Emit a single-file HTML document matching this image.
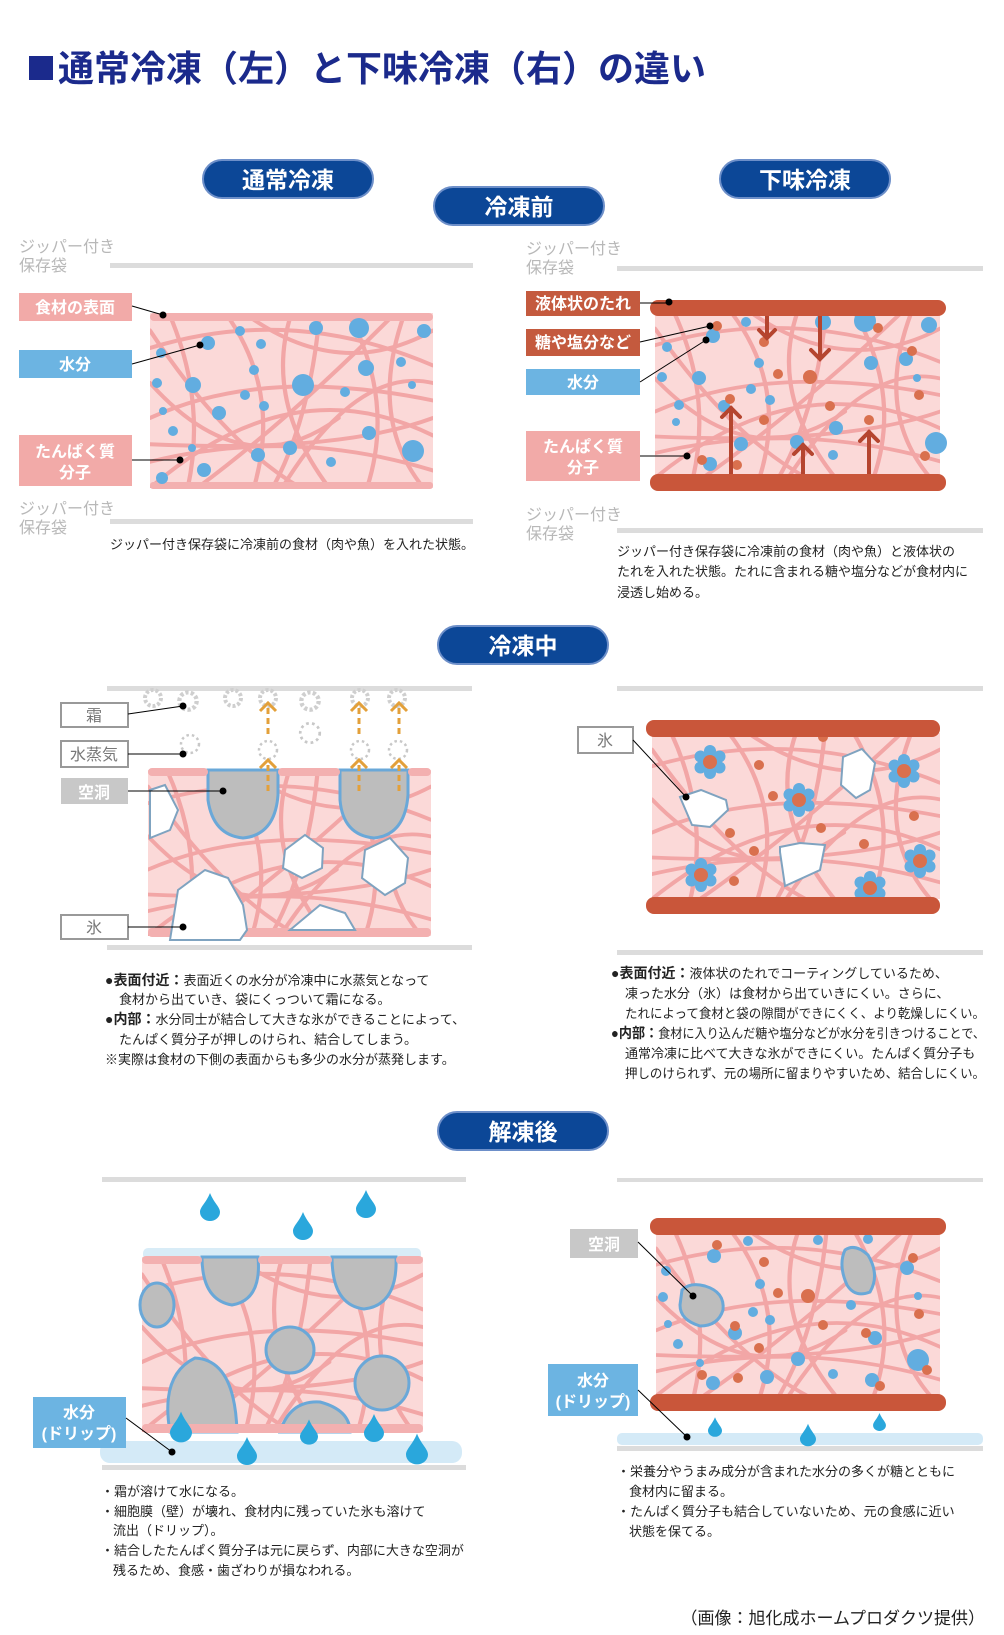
<!DOCTYPE html>
<html><head><meta charset="utf-8"><style>
html,body{margin:0;padding:0;background:#fff;}
svg{display:block;}
text{font-family:"Liberation Sans","Noto Sans CJK JP",sans-serif;}
</style></head><body>
<svg width="1004" height="1635" viewBox="0 0 1004 1635" xmlns="http://www.w3.org/2000/svg">
<defs>
<symbol id="fib" viewBox="0 0 300 200" preserveAspectRatio="none">
<rect width="300" height="200" fill="#fbd9d8"/>
<g fill="none" stroke="#f2a6a6" stroke-width="4.5" stroke-linecap="round">
<path d="M0,40 Q150,-10 300,60"/><path d="M0,120 Q120,60 300,100"/><path d="M0,170 Q150,130 300,180"/>
<path d="M20,0 Q60,100 40,200"/><path d="M80,0 Q140,90 110,200"/><path d="M150,0 Q120,100 190,200"/>
<path d="M210,0 Q260,100 230,200"/><path d="M270,0 Q230,120 290,200"/><path d="M0,80 Q100,200 200,120"/>
<path d="M100,0 Q200,80 300,20"/><path d="M0,200 Q150,60 300,140"/><path d="M0,20 Q80,150 160,200"/>
<path d="M140,200 Q220,60 300,80"/><path d="M50,200 Q150,120 260,0"/><path d="M0,150 Q200,160 300,120"/>
<path d="M180,0 Q170,120 130,200"/></g></symbol>
<symbol id="flw" viewBox="-20 -20 40 40">
<circle cx="0" cy="-11" r="6" fill="#62ade0"/><circle cx="9.5" cy="-5.5" r="6" fill="#62ade0"/><circle cx="9.5" cy="5.5" r="6" fill="#62ade0"/>
<circle cx="0" cy="11" r="6" fill="#62ade0"/><circle cx="-9.5" cy="5.5" r="6" fill="#62ade0"/><circle cx="-9.5" cy="-5.5" r="6" fill="#62ade0"/>
<circle r="7" fill="#d9704e"/></symbol>
<symbol id="drop" viewBox="0 0 20 28"><path d="M10,0 C14,10 20,14 20,19 A10,9 0 0 1 0,19 C0,14 6,10 10,0Z" fill="#2aa7dc"/></symbol>
<symbol id="gear" viewBox="-12 -12 24 24"><circle r="8" fill="none" stroke="#cfcfcf" stroke-width="4" stroke-dasharray="3 2"/></symbol>
<symbol id="vap" viewBox="-12 -12 24 24"><circle r="9" fill="none" stroke="#c8c8c8" stroke-width="2.5" stroke-dasharray="2.5 3"/></symbol>
</defs>

<rect x="29" y="56" width="24" height="24" fill="#1b2a8c"/>
<text x="58" y="81" font-size="36" font-weight="bold" fill="#1b2a8c">通常冷凍（左）と下味冷凍（右）の違い</text>

<g font-size="23" font-weight="bold" fill="#fff" text-anchor="middle">
<rect x="203" y="160" width="170" height="38" rx="19" fill="#0c4797" stroke="#6d8fc9" stroke-width="2"/><text x="288" y="188">通常冷凍</text>
<rect x="720" y="160" width="170" height="38" rx="19" fill="#0c4797" stroke="#6d8fc9" stroke-width="2"/><text x="805" y="188">下味冷凍</text>
<rect x="434" y="187" width="170" height="38" rx="19" fill="#0c4797" stroke="#6d8fc9" stroke-width="2"/><text x="519" y="215">冷凍前</text>
<rect x="438" y="626" width="170" height="38" rx="19" fill="#0c4797" stroke="#6d8fc9" stroke-width="2"/><text x="523" y="654">冷凍中</text>
<rect x="438" y="1112" width="170" height="38" rx="19" fill="#0c4797" stroke="#6d8fc9" stroke-width="2"/><text x="523" y="1140">解凍後</text>
</g>

<g font-size="16" fill="#b8b8b8">
<text x="19" y="252">ジッパー付き</text><text x="19" y="271">保存袋</text>
<text x="19" y="514">ジッパー付き</text><text x="19" y="533">保存袋</text>
<text x="526" y="254">ジッパー付き</text><text x="526" y="273">保存袋</text>
<text x="526" y="520">ジッパー付き</text><text x="526" y="539">保存袋</text>
</g>
<rect x="110" y="263" width="363" height="5" fill="#dcdcdc"/>
<rect x="110" y="519" width="363" height="5" fill="#dcdcdc"/>
<use href="#fib" x="150" y="313" width="283" height="175"/>
<rect x="150" y="313" width="283" height="8" rx="4" fill="#f3b0b0"/>
<rect x="150" y="482" width="283" height="7" rx="3" fill="#f3b0b0"/>
<g fill="#62ade0">
<circle cx="208" cy="343" r="7"/><circle cx="240" cy="331" r="5"/><circle cx="261" cy="344" r="5"/><circle cx="316" cy="328" r="7"/>
<circle cx="359" cy="328" r="10"/><circle cx="424" cy="331" r="7"/><circle cx="161" cy="353" r="5"/><circle cx="254" cy="370" r="5"/>
<circle cx="303" cy="385" r="11"/><circle cx="366" cy="368" r="8"/><circle cx="401" cy="362" r="5"/><circle cx="157" cy="383" r="5"/>
<circle cx="193" cy="385" r="8"/><circle cx="245" cy="395" r="5"/><circle cx="264" cy="406" r="5"/><circle cx="219" cy="413" r="7"/>
<circle cx="345" cy="392" r="5"/><circle cx="412" cy="385" r="4"/><circle cx="163" cy="411" r="4"/><circle cx="173" cy="431" r="5"/>
<circle cx="192" cy="448" r="4"/><circle cx="258" cy="455" r="7"/><circle cx="290" cy="448" r="7"/><circle cx="369" cy="433" r="7"/>
<circle cx="331" cy="462" r="5"/><circle cx="413" cy="451" r="11"/><circle cx="204" cy="470" r="7"/><circle cx="162" cy="478" r="6"/></g>
<g font-size="16" font-weight="bold" fill="#fff" text-anchor="middle">
<rect x="19" y="293" width="113" height="28" fill="#f2aaa8"/><text x="75" y="313">食材の表面</text>
<rect x="19" y="350" width="113" height="28" fill="#6cb4e2"/><text x="75" y="370">水分</text>
<rect x="19" y="435" width="113" height="51" fill="#f2aaa8"/><text x="75" y="457">たんぱく質</text><text x="75" y="478">分子</text>
</g>
<g stroke="#000" stroke-width="1"><line x1="132" y1="306" x2="163" y2="315"/><line x1="132" y1="364" x2="200" y2="345"/><line x1="132" y1="460" x2="180" y2="460"/></g>
<g fill="#000"><circle cx="163" cy="315" r="3.5"/><circle cx="200" cy="345" r="3.5"/><circle cx="180" cy="460" r="3.5"/></g>
<text x="110" y="549" font-size="13" fill="#222">ジッパー付き保存袋に冷凍前の食材（肉や魚）を入れた状態。</text>

<rect x="617" y="266" width="366" height="5" fill="#dcdcdc"/>
<rect x="617" y="528" width="366" height="5" fill="#dcdcdc"/>
<use href="#fib" x="655" y="312" width="285" height="166"/>
<g fill="#62ade0">
<circle cx="713" cy="336" r="7"/><circle cx="746" cy="322" r="5"/><circle cx="823" cy="322" r="8"/><circle cx="865" cy="321" r="11"/><circle cx="929" cy="325" r="8"/>
<circle cx="667" cy="347" r="5"/><circle cx="759" cy="363" r="5"/><circle cx="871" cy="363" r="7"/><circle cx="906" cy="359" r="7"/>
<circle cx="699" cy="378" r="7"/><circle cx="662" cy="377" r="5"/><circle cx="751" cy="389" r="5"/><circle cx="917" cy="378" r="4"/>
<circle cx="679" cy="405" r="5"/><circle cx="770" cy="400" r="5"/><circle cx="724" cy="406" r="6"/><circle cx="797" cy="442" r="7"/><circle cx="741" cy="444" r="7"/>
<circle cx="836" cy="428" r="7"/><circle cx="936" cy="443" r="11"/><circle cx="676" cy="422" r="4"/><circle cx="710" cy="464" r="7"/><circle cx="833" cy="455" r="5"/></g>
<g fill="#d9704e">
<circle cx="717" cy="326" r="5"/><circle cx="764" cy="342" r="5"/><circle cx="878" cy="328" r="5"/><circle cx="912" cy="351" r="5"/>
<circle cx="778" cy="374" r="5"/><circle cx="810" cy="377" r="7"/><circle cx="919" cy="395" r="5"/><circle cx="730" cy="399" r="5"/>
<circle cx="830" cy="406" r="5"/><circle cx="764" cy="420" r="5"/><circle cx="869" cy="420" r="5"/><circle cx="702" cy="460" r="5"/>
<circle cx="737" cy="465" r="5"/><circle cx="925" cy="456" r="5"/></g>
<g stroke="#b5452f" stroke-width="4" fill="none" stroke-linecap="round">
<line x1="767" y1="316" x2="767" y2="337"/><path d="M759,330 L767,338 L775,330"/>
<line x1="820" y1="316" x2="820" y2="358"/><path d="M811,350 L820,359 L829,350"/>
<line x1="731" y1="476" x2="731" y2="408"/><path d="M722,417 L731,408 L740,417"/>
<line x1="803" y1="476" x2="803" y2="445"/><path d="M794,454 L803,445 L812,454"/>
<line x1="869" y1="476" x2="869" y2="432"/><path d="M860,441 L869,432 L878,441"/></g>
<rect x="650" y="300" width="296" height="16" rx="8" fill="#c9563a"/>
<rect x="650" y="474" width="296" height="17" rx="8" fill="#c9563a"/>
<g font-size="16" font-weight="bold" fill="#fff" text-anchor="middle">
<rect x="526" y="291" width="114" height="25" fill="#c45a3e"/><text x="583" y="309">液体状のたれ</text>
<rect x="526" y="329" width="114" height="27" fill="#c45a3e"/><text x="583" y="348">糖や塩分など</text>
<rect x="526" y="369" width="114" height="26" fill="#6cb4e2"/><text x="583" y="388">水分</text>
<rect x="526" y="431" width="114" height="50" fill="#f2aaa8"/><text x="583" y="452">たんぱく質</text><text x="583" y="473">分子</text>
</g>
<g stroke="#000" stroke-width="1"><line x1="640" y1="303" x2="669" y2="303"/><line x1="640" y1="342" x2="710" y2="326"/><line x1="640" y1="382" x2="706" y2="340"/><line x1="640" y1="456" x2="687" y2="456"/></g>
<g fill="#000"><circle cx="669" cy="302" r="3.5"/><circle cx="710" cy="326" r="3.5"/><circle cx="706" cy="340" r="3.5"/><circle cx="687" cy="456" r="3.5"/></g>
<g font-size="13" fill="#222"><text x="617" y="556">ジッパー付き保存袋に冷凍前の食材（肉や魚）と液体状の</text><text x="617" y="576">たれを入れた状態。たれに含まれる糖や塩分などが食材内に</text><text x="617" y="597">浸透し始める。</text></g>

<rect x="107" y="686" width="365" height="5" fill="#dcdcdc"/>
<rect x="107" y="945" width="365" height="5" fill="#dcdcdc"/>
<use href="#fib" x="148" y="770" width="283" height="166"/>
<path d="M208,770 L278,770 L278,795 Q275,835 243,838 Q213,835 208,800Z" fill="#bdbdbd" stroke="#6aa8d8" stroke-width="3"/>
<path d="M340,770 L408,770 L408,795 Q405,835 374,838 Q343,835 340,800Z" fill="#bdbdbd" stroke="#6aa8d8" stroke-width="3"/>
<rect x="148" y="768" width="60" height="8" rx="4" fill="#f3b0b0"/><rect x="278" y="768" width="62" height="8" rx="4" fill="#f3b0b0"/><rect x="408" y="768" width="23" height="8" rx="4" fill="#f3b0b0"/>
<rect x="148" y="928" width="283" height="9" rx="4" fill="#f3b0b0"/>
<g fill="#fff" stroke="#7fa3c0" stroke-width="2">
<path d="M150,790 L165,785 L178,810 L170,830 L150,838Z"/>
<path d="M285,850 L305,835 L323,848 L322,868 L302,878 L283,868Z"/>
<path d="M170,940 L178,890 L205,870 L228,878 L243,905 L247,930 L240,940Z"/>
<path d="M365,850 L390,838 L408,858 L405,883 L385,895 L362,878Z"/>
<path d="M290,930 L320,905 L345,913 L355,930Z"/></g>
<g>
<use href="#gear" x="141" y="686" width="24" height="24"/><use href="#gear" x="175" y="688" width="26" height="26"/>
<use href="#gear" x="221" y="686" width="24" height="24"/><use href="#gear" x="256" y="686" width="24" height="24"/>
<use href="#gear" x="297" y="688" width="26" height="26"/><use href="#gear" x="348" y="686" width="24" height="24"/>
<use href="#gear" x="385" y="686" width="24" height="24"/>
<use href="#vap" x="178" y="732" width="24" height="24"/><use href="#vap" x="256" y="738" width="24" height="24"/>
<use href="#vap" x="297" y="720" width="26" height="26"/><use href="#vap" x="348" y="738" width="24" height="24"/><use href="#vap" x="386" y="738" width="24" height="24"/>
</g>
<g stroke="#e3a03a" stroke-width="3" fill="none">
<g stroke-dasharray="6 4"><line x1="268" y1="708" x2="268" y2="735"/><line x1="268" y1="765" x2="268" y2="795"/>
<line x1="359" y1="708" x2="359" y2="735"/><line x1="359" y1="765" x2="359" y2="795"/>
<line x1="399" y1="708" x2="399" y2="735"/><line x1="399" y1="765" x2="399" y2="795"/></g>
<path d="M260,711 L268,703 L276,711"/><path d="M260,768 L268,760 L276,768"/>
<path d="M351,711 L359,703 L367,711"/><path d="M351,768 L359,760 L367,768"/>
<path d="M391,711 L399,703 L407,711"/><path d="M391,768 L399,760 L407,768"/></g>
<g font-size="16" text-anchor="middle">
<rect x="61" y="703" width="67" height="24" fill="#fff" stroke="#999" stroke-width="2"/><text x="94" y="721" fill="#777">霜</text>
<rect x="61" y="741" width="67" height="26" fill="#fff" stroke="#999" stroke-width="2"/><text x="94" y="760" fill="#777">水蒸気</text>
<rect x="61" y="778" width="67" height="26" fill="#c8c8c8"/><text x="94" y="798" fill="#fff" font-weight="bold">空洞</text>
<rect x="61" y="915" width="67" height="24" fill="#fff" stroke="#999" stroke-width="2"/><text x="94" y="933" fill="#777">氷</text>
</g>
<g stroke="#000" stroke-width="1"><line x1="128" y1="714" x2="183" y2="706"/><line x1="128" y1="754" x2="183" y2="754"/><line x1="128" y1="791" x2="223" y2="791"/><line x1="128" y1="927" x2="183" y2="927"/></g>
<g fill="#000"><circle cx="183" cy="706" r="3.5"/><circle cx="183" cy="754" r="3.5"/><circle cx="223" cy="791" r="3.5"/><circle cx="183" cy="927" r="3.5"/></g>
<g font-size="13" fill="#222">
<text x="105" y="985"><tspan font-weight="bold" font-size="14">●表面付近：</tspan>表面近くの水分が冷凍中に水蒸気となって</text>
<text x="119" y="1004">食材から出ていき、袋にくっついて霜になる。</text>
<text x="105" y="1024"><tspan font-weight="bold" font-size="14">●内部：</tspan>水分同士が結合して大きな氷ができることによって、</text>
<text x="119" y="1044">たんぱく質分子が押しのけられ、結合してしまう。</text>
<text x="105" y="1064">※実際は食材の下側の表面からも多少の水分が蒸発します。</text></g>

<rect x="617" y="686" width="366" height="5" fill="#dcdcdc"/>
<rect x="617" y="950" width="366" height="5" fill="#dcdcdc"/>
<use href="#fib" x="652" y="733" width="288" height="166"/>
<g fill="#fff" stroke="#7fa3c0" stroke-width="2">
<path d="M680,797 L701,790 L726,800 L728,810 L710,827 L692,825Z"/>
<path d="M843,757 L862,749 L875,763 L870,790 L856,798 L841,785Z"/>
<path d="M780,852 L780,847 L800,843 L825,845 L820,870 L785,886Z"/></g>
<use href="#flw" x="690" y="742" width="40" height="40"/><use href="#flw" x="884" y="751" width="40" height="40"/>
<use href="#flw" x="779" y="780" width="40" height="40"/><use href="#flw" x="681" y="855" width="40" height="40"/>
<use href="#flw" x="900" y="841" width="40" height="40"/><use href="#flw" x="850" y="868" width="40" height="40"/>
<g fill="#d9704e"><circle cx="759" cy="765" r="5"/><circle cx="773" cy="796" r="5"/><circle cx="730" cy="833" r="5"/><circle cx="821" cy="828" r="5"/>
<circle cx="754" cy="851" r="5"/><circle cx="734" cy="881" r="5"/><circle cx="864" cy="844" r="5"/><circle cx="914" cy="816" r="5"/><circle cx="823" cy="737" r="5"/></g>
<rect x="646" y="720" width="294" height="17" rx="8" fill="#c9563a"/>
<rect x="646" y="897" width="294" height="17" rx="8" fill="#c9563a"/>
<rect x="578" y="727" width="55" height="26" fill="#fff" stroke="#999" stroke-width="2"/><text x="605" y="746" font-size="16" fill="#777" text-anchor="middle">氷</text>
<line x1="633" y1="740" x2="686" y2="797" stroke="#000" stroke-width="1"/><circle cx="686" cy="797" r="3.5" fill="#000"/>
<g font-size="13" fill="#222">
<text x="611" y="978"><tspan font-weight="bold" font-size="14">●表面付近：</tspan>液体状のたれでコーティングしているため、</text>
<text x="625" y="998">凍った水分（氷）は食材から出ていきにくい。さらに、</text>
<text x="625" y="1018" textLength="360" lengthAdjust="spacingAndGlyphs">たれによって食材と袋の隙間ができにくく、より乾燥しにくい。</text>
<text x="611" y="1038" textLength="374" lengthAdjust="spacingAndGlyphs"><tspan font-weight="bold" font-size="14">●内部：</tspan>食材に入り込んだ糖や塩分などが水分を引きつけることで、</text>
<text x="625" y="1058">通常冷凍に比べて大きな氷ができにくい。たんぱく質分子も</text>
<text x="625" y="1078" textLength="360" lengthAdjust="spacingAndGlyphs">押しのけられず、元の場所に留まりやすいため、結合しにくい。</text></g>

<rect x="102" y="1177" width="364" height="5" fill="#dcdcdc"/>
<rect x="102" y="1465" width="364" height="5" fill="#dcdcdc"/>
<rect x="143" y="1248" width="278" height="12" rx="5" fill="#d8ecf7"/>
<rect x="100" y="1441" width="362" height="22" rx="10" fill="#d4eaf7"/>
<use href="#fib" x="142" y="1257" width="281" height="175"/>
<g fill="#bdbdbd" stroke="#6aa8d8" stroke-width="3">
<path d="M202,1257 L258,1257 Q262,1300 232,1305 Q202,1300 202,1257Z"/>
<path d="M332,1257 L396,1257 Q398,1305 364,1309 Q332,1305 332,1257Z"/>
<ellipse cx="157" cy="1305" rx="17" ry="22"/>
<ellipse cx="290" cy="1350" rx="24" ry="23"/>
<ellipse cx="382" cy="1383" rx="27" ry="27"/>
<path d="M170,1432 Q160,1375 195,1358 Q235,1360 237,1432Z"/>
<path d="M280,1432 Q290,1400 320,1402 Q350,1410 350,1432Z"/></g>
<rect x="142" y="1256" width="60" height="8" rx="4" fill="#f3b0b0"/><rect x="258" y="1256" width="74" height="8" rx="4" fill="#f3b0b0"/><rect x="396" y="1256" width="27" height="8" rx="4" fill="#f3b0b0"/>
<rect x="142" y="1424" width="281" height="9" rx="4" fill="#f3b0b0"/>
<use href="#drop" x="200" y="1193" width="20" height="28"/><use href="#drop" x="293" y="1212" width="20" height="28"/><use href="#drop" x="356" y="1190" width="20" height="28"/>
<use href="#drop" x="170" y="1411" width="22" height="32"/><use href="#drop" x="237" y="1437" width="20" height="28"/>
<use href="#drop" x="300" y="1419" width="18" height="26"/><use href="#drop" x="364" y="1414" width="20" height="28"/><use href="#drop" x="406" y="1433" width="22" height="32"/>
<rect x="33" y="1397" width="93" height="51" fill="#6cb4e2"/>
<g font-size="16" font-weight="bold" fill="#fff" text-anchor="middle"><text x="79" y="1418">水分</text><text x="79" y="1439">(ドリップ)</text></g>
<line x1="126" y1="1418" x2="172" y2="1452" stroke="#000" stroke-width="1"/><circle cx="172" cy="1452" r="3.5" fill="#000"/>
<g font-size="13" fill="#222">
<text x="101" y="1496">・霜が溶けて水になる。</text>
<text x="101" y="1516">・細胞膜（壁）が壊れ、食材内に残っていた氷も溶けて</text>
<text x="113" y="1535">流出（ドリップ）。</text>
<text x="101" y="1555">・結合したたんぱく質分子は元に戻らず、内部に大きな空洞が</text>
<text x="113" y="1575">残るため、食感・歯ざわりが損なわれる。</text></g>

<rect x="617" y="1178" width="366" height="4" fill="#dcdcdc"/>
<rect x="617" y="1433" width="366" height="12" rx="5" fill="#d4eaf7"/>
<rect x="617" y="1446" width="366" height="5" fill="#dcdcdc"/>
<use href="#fib" x="656" y="1232" width="284" height="164"/>
<g fill="#bdbdbd" stroke="#6aa8d8" stroke-width="3">
<path d="M682,1290 Q690,1282 705,1286 Q725,1292 723,1310 Q718,1326 700,1326 Q680,1320 680,1305Z"/>
<path d="M845,1250 Q855,1243 868,1255 Q880,1275 870,1292 Q855,1298 847,1285 Q838,1265 845,1250Z"/></g>
<g fill="#62ade0">
<circle cx="714" cy="1256" r="7"/><circle cx="748" cy="1241" r="5"/><circle cx="818" cy="1240" r="5"/><circle cx="868" cy="1239" r="5"/><circle cx="907" cy="1268" r="7"/>
<circle cx="666" cy="1271" r="5"/><circle cx="760" cy="1284" r="5"/><circle cx="663" cy="1297" r="5"/><circle cx="753" cy="1312" r="5"/><circle cx="770" cy="1320" r="5"/>
<circle cx="735" cy="1333" r="7"/><circle cx="851" cy="1305" r="5"/><circle cx="875" cy="1338" r="7"/><circle cx="668" cy="1324" r="4"/>
<circle cx="678" cy="1344" r="5"/><circle cx="700" cy="1363" r="4"/><circle cx="798" cy="1359" r="7"/><circle cx="713" cy="1383" r="7"/>
<circle cx="767" cy="1377" r="7"/><circle cx="833" cy="1374" r="5"/><circle cx="872" cy="1380" r="7"/><circle cx="918" cy="1360" r="11"/><circle cx="918" cy="1296" r="4"/></g>
<g fill="#d9704e"><circle cx="717" cy="1245" r="5"/><circle cx="764" cy="1262" r="5"/><circle cx="778" cy="1293" r="5"/><circle cx="808" cy="1296" r="7"/>
<circle cx="913" cy="1258" r="5"/><circle cx="919" cy="1314" r="5"/><circle cx="735" cy="1326" r="5"/><circle cx="823" cy="1325" r="5"/>
<circle cx="866" cy="1333" r="5"/><circle cx="759" cy="1348" r="5"/><circle cx="702" cy="1375" r="5"/><circle cx="738" cy="1378" r="5"/>
<circle cx="880" cy="1386" r="5"/><circle cx="927" cy="1370" r="5"/></g>
<rect x="650" y="1218" width="296" height="17" rx="8" fill="#c9563a"/>
<rect x="650" y="1394" width="296" height="17" rx="8" fill="#c9563a"/>
<use href="#drop" x="708" y="1417" width="14" height="20"/><use href="#drop" x="800" y="1423" width="16" height="24"/><use href="#drop" x="873" y="1413" width="13" height="18"/>
<rect x="570" y="1229" width="68" height="29" fill="#c8c8c8"/><text x="604" y="1250" font-size="16" font-weight="bold" fill="#fff" text-anchor="middle">空洞</text>
<rect x="548" y="1364" width="90" height="52" fill="#6cb4e2"/>
<g font-size="16" font-weight="bold" fill="#fff" text-anchor="middle"><text x="593" y="1386">水分</text><text x="593" y="1407">(ドリップ)</text></g>
<g stroke="#000" stroke-width="1"><line x1="638" y1="1242" x2="693" y2="1296"/><line x1="638" y1="1390" x2="687" y2="1437"/></g>
<g fill="#000"><circle cx="693" cy="1296" r="3.5"/><circle cx="687" cy="1437" r="3.5"/></g>
<g font-size="13" fill="#222">
<text x="617" y="1476">・栄養分やうまみ成分が含まれた水分の多くが糖とともに</text>
<text x="629" y="1496">食材内に留まる。</text>
<text x="617" y="1516">・たんぱく質分子も結合していないため、元の食感に近い</text>
<text x="629" y="1536">状態を保てる。</text></g>

<text x="985" y="1624" font-size="17" fill="#222" text-anchor="end">（画像：旭化成ホームプロダクツ提供）</text>
</svg>
</body></html>
